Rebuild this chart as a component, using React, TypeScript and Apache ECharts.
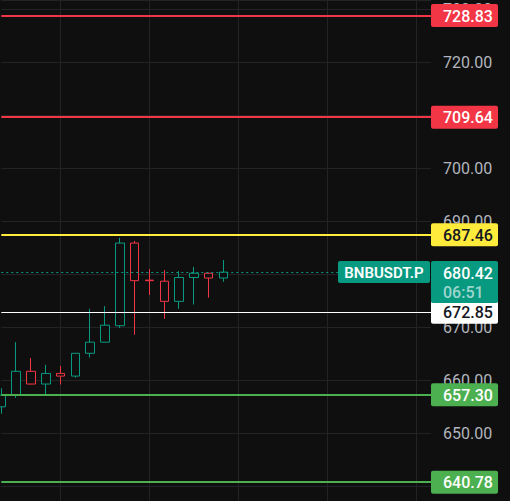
import { useEffect, useRef } from "react";
import * as echarts from "echarts";

// ---- data ----
const categories = [
  "1", "2", "3", "4", "5", "6", "7", "8", "9", "10",
  "11", "12", "13", "14", "15", "16", "17", "18", "19", "20",
  "21", "22", "23", "24", "25", "26", "27", "28", "29", "30",
];
// [open, close, low, high]
const candles = [
  [655.0, 657.2, 653.7, 658.5],
  [657.2, 661.7, 656.7, 667.2],
  [661.7, 659.3, 659.2, 664.2],
  [659.3, 661.3, 657.4, 662.9],
  [661.3, 660.8, 659.2, 662.7],
  [660.8, 665.1, 660.5, 665.1],
  [665.1, 667.2, 664.3, 673.5],
  [667.2, 670.4, 667.2, 674.0],
  [670.3, 685.9, 669.9, 686.9],
  [685.9, 678.8, 668.6, 686.3],
  [678.9, 678.8, 676.1, 681.0],
  [678.7, 674.9, 671.6, 680.8],
  [674.9, 679.4, 673.5, 680.6],
  [679.4, 680.2, 674.3, 681.4],
  [680.2, 679.3, 675.6, 680.3],
  [679.3, 680.42, 678.6, 682.7],
];
const levelValues = [728.83, 709.64, 687.46, 672.85, 657.3, 640.78];
const levelKinds = ["resistance", "resistance", "pivot", "entry", "support", "support"];
const lastPrice = 680.42;
const symbolName = "BNBUSDT.P";
const countdown = "06:51";
const yMin = 637.23;
const yMax = 731.76;
// tick labels hidden completely by price boxes in the reference
const coveredTicks = [710, 680, 640];

// ---- styles ----
const BG = "#0f0f0f";
const UP = "#089981";
const DOWN = "#F23645";
const GRIDC = "#232323";
const FONT = "Roboto, 'Noto Sans', sans-serif";
const kindStyle: Record<string, { line: string; box: string; text: string; width: number }> = {
  resistance: { line: "#F23645", box: "#F23645", text: "#FFFFFF", width: 2 },
  pivot: { line: "#FFEB3B", box: "#FFEB3B", text: "#131722", width: 2 },
  entry: { line: "#FFFFFF", box: "#FFFFFF", text: "#131722", width: 1 },
  support: { line: "#4CAF50", box: "#4CAF50", text: "#FFFFFF", width: 2 },
};

export default function App() {
  const ref = useRef<HTMLDivElement>(null);
  useEffect(() => {
    document.body.style.margin = "0";
    document.body.style.background = BG;
    const chart = echarts.init(ref.current!, null, { renderer: "svg" });
    const markData: any[] = levelValues.map((v, i) => ({
      yAxis: v,
      lineStyle: { color: kindStyle[levelKinds[i]].line, width: kindStyle[levelKinds[i]].width, type: "solid" },
    }));
    markData.push({ yAxis: lastPrice, lineStyle: { color: UP, width: 1, type: [2, 3] } });
    chart.setOption({
      animation: false,
      backgroundColor: BG,
      grid: { left: 1.3, right: 79, top: 0, bottom: 0 },
      xAxis: {
        type: "category",
        data: categories,
        boundaryGap: false,
        axisLine: { show: false },
        axisTick: { show: false },
        axisLabel: { show: false },
        splitLine: { show: true, interval: (i: number) => i % 6 === 4, lineStyle: { color: GRIDC, width: 1 } },
      },
      yAxis: {
        type: "value",
        position: "right",
        min: yMin,
        max: yMax,
        splitNumber: 9,
        minInterval: 10,
        maxInterval: 10,
        axisLine: { show: false },
        axisTick: { show: false },
        axisLabel: {
          color: "#b2b5be",
          fontSize: 16,
          fontFamily: FONT,
          margin: 12,
          formatter: (v: number) => {
            const r = Math.round(v / 10) * 10;
            if (Math.abs(v - r) > 1e-6) return "";
            if (coveredTicks.indexOf(r) >= 0) return "";
            return v.toFixed(2);
          },
        },
        splitLine: { show: true, lineStyle: { color: GRIDC, width: 1 } },
      },
      series: [
        {
          type: "candlestick",
          data: candles,
          barWidth: 9,
          clip: false,
          itemStyle: {
            color: BG,
            color0: BG,
            borderColor: UP,
            borderColor0: DOWN,
            borderWidth: 1,
          },
          markLine: {
            silent: true,
            symbol: "none",
            label: { show: false },
            data: markData,
          },
        },
      ],
    });

    const py = (v: number) => chart.convertToPixel({ yAxisIndex: 0 }, v) as number;
    const boxX = 431;
    const boxW = 67;
    const textX = 443;
    const els: any[] = [];
    levelValues.forEach((v, i) => {
      const s = kindStyle[levelKinds[i]];
      const y = py(v);
      els.push({
        type: "rect",
        z: 100,
        shape: { x: boxX, y: y - 11.5, width: boxW, height: 23, r: 2 },
        style: { fill: s.box },
      });
      els.push({
        type: "text",
        z: 101,
        x: textX,
        y: y + 0.5,
        style: { text: v.toFixed(2), fill: s.text, font: `500 16px ${FONT}`, align: "left", verticalAlign: "middle" },
      });
    });
    const ly = py(lastPrice);
    els.push({
      type: "rect",
      z: 100,
      shape: { x: boxX, y: ly - 11, width: boxW, height: 42, r: 2 },
      style: { fill: UP },
    });
    els.push({
      type: "text",
      z: 101,
      x: textX,
      y: ly + 1,
      style: { text: lastPrice.toFixed(2), fill: "#ffffff", font: `500 16px ${FONT}`, align: "left", verticalAlign: "middle" },
    });
    els.push({
      type: "text",
      z: 101,
      x: textX,
      y: ly + 20,
      style: { text: countdown, fill: "rgba(255,255,255,0.62)", font: `500 16px ${FONT}`, align: "left", verticalAlign: "middle" },
    });
    els.push({
      type: "rect",
      z: 100,
      shape: { x: 338, y: ly - 11, width: 92, height: 22, r: 2 },
      style: { fill: UP },
    });
    els.push({
      type: "text",
      z: 101,
      x: 384,
      y: ly + 0.5,
      style: { text: symbolName, fill: "#ffffff", font: `600 15px ${FONT}`, align: "center", verticalAlign: "middle" },
    });
    chart.setOption({ graphic: { elements: els } });

    return () => chart.dispose();
  }, []);
  return <div ref={ref} style={{ position: "fixed", left: 0, top: 0, width: 510, height: 501 }} />;
}
